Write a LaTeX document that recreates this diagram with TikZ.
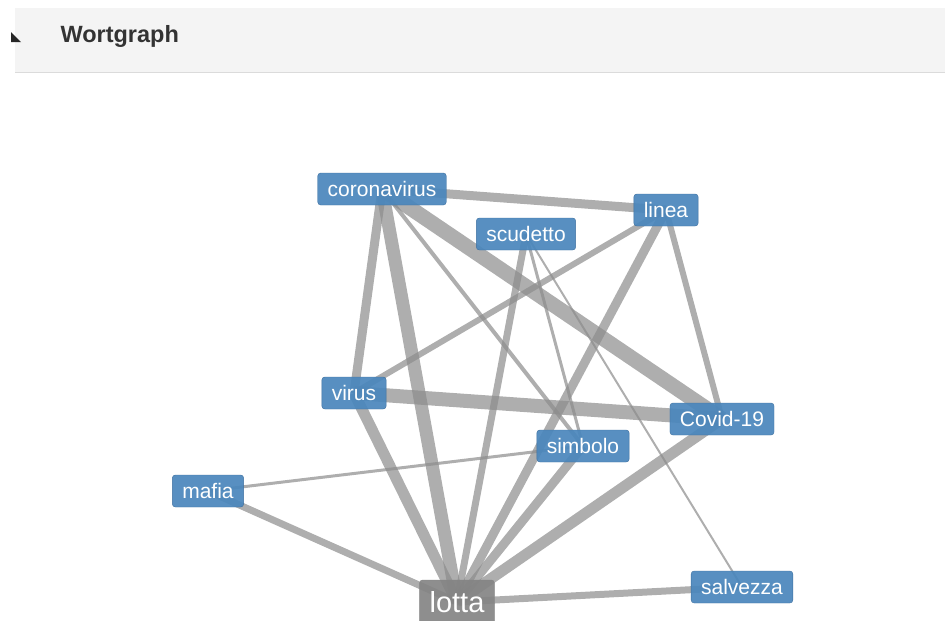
\documentclass[tikz,border=0pt]{standalone}
\usepackage{fontspec}
\setmainfont{Liberation Sans}
\usetikzlibrary{backgrounds}
\definecolor{wordColor}{HTML}{4A86BC}
\definecolor{wordLine}{HTML}{3E70A0}
\definecolor{hubColor}{HTML}{848484}
\definecolor{linkColor}{HTML}{8C8C8C}
\definecolor{headColor}{HTML}{F4F4F4}
\tikzset{word state/.style={fill=wordColor, draw=wordLine, fill opacity=0.92, text opacity=1,
		text=white, rounded corners=3pt, inner xsep=10pt, inner ysep=0pt,
		minimum height=32pt, font=\fontsize{21}{21}\selectfont}}
\tikzset{hub state/.style={word state, fill=hubColor, draw=hubColor,
		minimum height=44pt, font=\fontsize{29}{29}\selectfont}}
\tikzset{link/.style={draw=linkColor, draw opacity=0.7, line width=#1}}

\begin{document}
\begin{tikzpicture}[x=1pt,y=-1pt]
					\useasboundingbox (0,0) rectangle (945,621);
					\clip (0,0) rectangle (945,621);
					% header
					\fill[headColor] (15,8) rectangle (945,72);
					\draw[black!14] (15,72) -- (945,72);
					\fill[black!85] (11,32) -- (21,42) -- (11,42) -- cycle;
					\node[anchor=west, text=black!80, font=\bfseries\fontsize{23.5}{23.5}\selectfont] (title) at (57,36) {Wortgraph};
					% words
					\node[word state] at (382,189) (coronavirus) {coronavirus};
					\node[word state] at (666,210) (linea) {linea};
					\node[word state] at (526,234) (scudetto) {scudetto};
					\node[word state] at (354,393) (virus) {virus};
					\node[word state] at (722,419) (covid) {Covid-19};
					\node[word state] at (583,446) (simbolo) {simbolo};
					\node[word state] at (208,491) (mafia) {mafia};
					\node[word state] at (742,587) (salvezza) {salvezza};
					\node[hub state] at (457,602) (lotta) {lotta};
					\begin{scope}[on background layer]
					\path (coronavirus.center) edge[link=9pt] (linea.center);
					\path (coronavirus.center) edge[link=9pt] (virus.center);
					\path (coronavirus.center) edge[link=13pt] (lotta.center);
					\path (coronavirus.center) edge[link=15pt] (covid.center);
					\path (coronavirus.center) edge[link=4pt] (simbolo.center);
					\path (linea.center) edge[link=6pt] (virus.center);
					\path (linea.center) edge[link=9pt] (lotta.center);
					\path (linea.center) edge[link=6pt] (covid.center);
					\path (scudetto.center) edge[link=7pt] (lotta.center);
					\path (scudetto.center) edge[link=3pt] (simbolo.center);
					\path (scudetto.center) edge[link=2pt] (salvezza.center);
					\path (virus.center) edge[link=14pt] (covid.center);
					\path (virus.center) edge[link=11pt] (lotta.center);
					\path (simbolo.center) edge[link=9pt] (lotta.center);
					\path (covid.center) edge[link=11pt] (lotta.center);
					\path (mafia.center) edge[link=3pt] (simbolo.center);
					\path (mafia.center) edge[link=7pt] (lotta.center);
					\path (lotta.center) edge[link=7pt] (salvezza.center);
					\end{scope}
				\end{tikzpicture}
\end{document}
